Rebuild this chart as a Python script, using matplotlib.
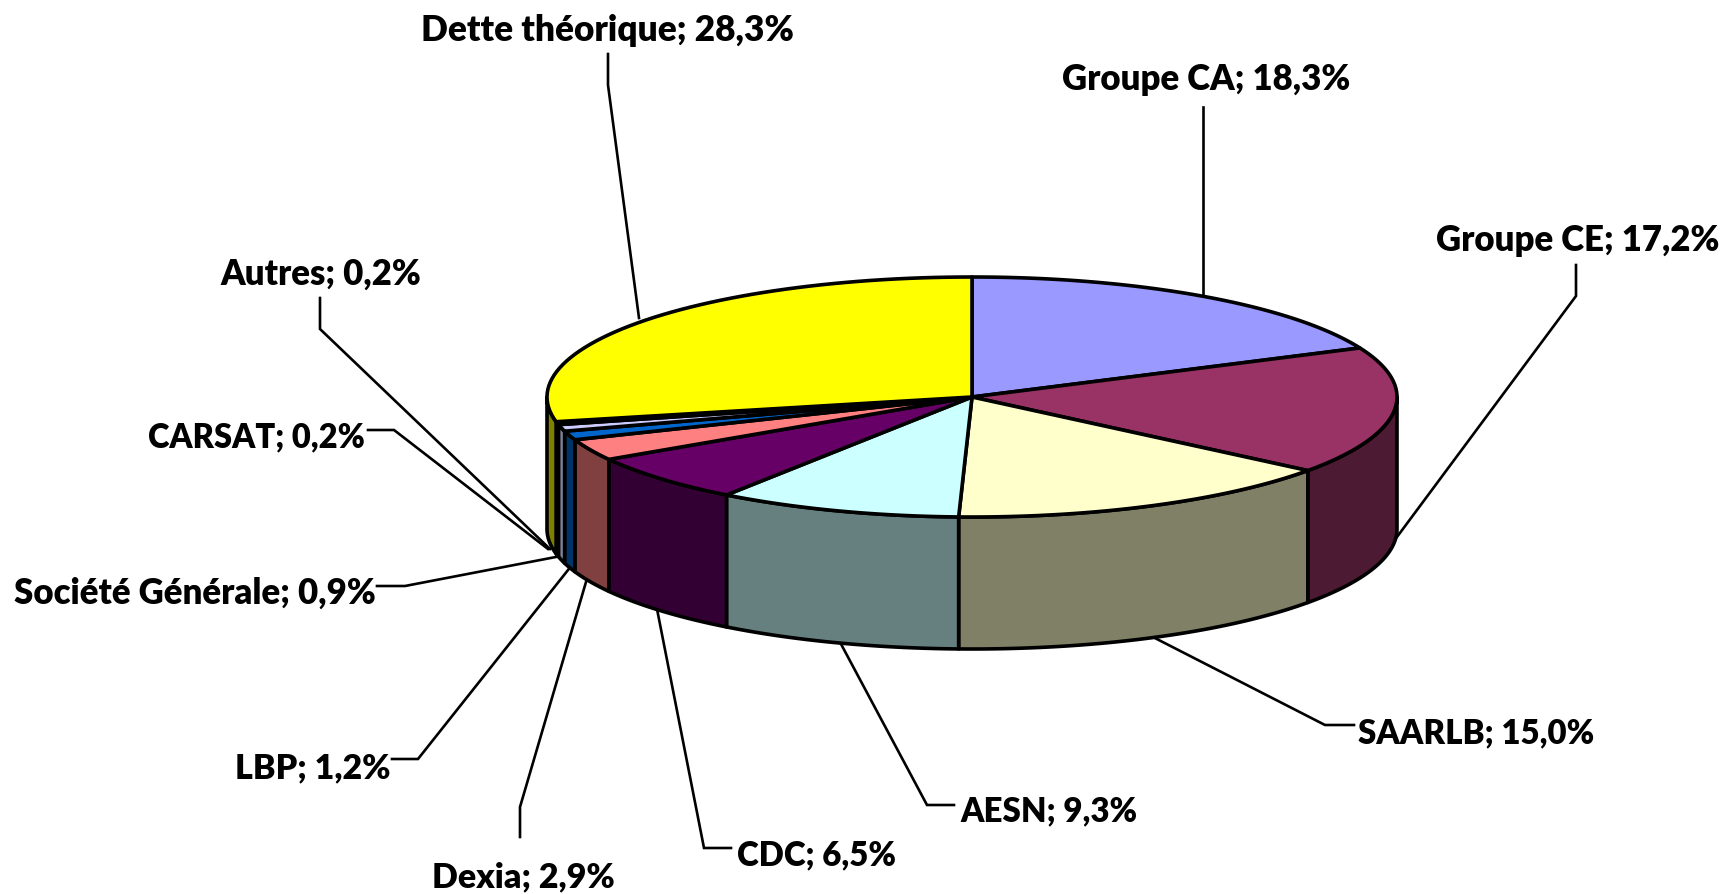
import matplotlib
matplotlib.use('Agg')
import matplotlib.pyplot as plt
import numpy as np

names = ['Groupe CA','Groupe CE','SAARLB','AESN','CDC','Dexia','LBP','Société Générale','CARSAT','Autres','Dette théorique']
shares = [18.3,17.2,15.0,9.3,6.5,2.9,1.2,0.9,0.2,0.2,28.3]
top_colors = ['#9999FF','#993366','#FFFFCC','#CCFFFF','#660066','#FF8080','#0066CC','#CCCCFF','#000080','#000000','#FFFF00']
side_colors = ['#4C4C80','#4D1A33','#808066','#668080','#330033','#804040','#003366','#808099','#000040','#000000','#808000']
share_text = ['18,3%','17,2%','15,0%','9,3%','6,5%','2,9%','1,2%','0,9%','0,2%','0,2%','28,3%']

# label anchor (x, y, ha) and leader line, in pixels of the 1724x895 picture
label_pos = [(1206,79,'center'),(1578,240,'center'),(1358,733,'left'),(960,811,'left'),(737,855,'left'),
             (523,877,'center'),(391,768,'right'),(376,593,'right'),(365,437,'right'),(321,274,'center'),(608,30,'center')]
label_size = [25,25,23.8,23.8,23.8,24.5,24.5,25,23.5,25,25.4]
leaders = [[(1203,108),(1203,295)],
           [(1576,266),(1576,297),(1391,546)],
           [(1354,726),(1325,726),(1149,636)],
           [(954,806),(927,806),(841,645)],
           [(731,849),(704,849),(657,610)],
           [(520,838),(520,808),(586,583)],
           [(392,760),(418,760),(572,566)],
           [(377,587),(405,587),(561,557)],
           [(368,431),(394,431),(548,550)],
           [(320,299),(320,330),(550,550)],
           [(608,55),(608,86),(639,319)]]

cx, cy = 972, 398
rx, ry = 425, 120
depth = 132
lw = 2.6

def rim(a, b, n=60):
    t = np.radians(np.linspace(a, b, n))
    return cx + rx*np.sin(t), cy - ry*np.cos(t)

fig = plt.figure(figsize=(17.24,8.95), dpi=100)
ax = fig.add_axes([0,0,1,1])
ax.set_xlim(0,1724)
ax.set_ylim(895,0)
ax.axis('off')

angles = np.concatenate([[0], np.cumsum(shares)])*360/sum(shares)

# walls first, only the front half of the pie shows them
for i in range(len(shares)):
    a = max(angles[i],90)
    b = min(angles[i+1],270)
    if a >= b:
        continue
    x, y = rim(a,b)
    ax.fill(np.r_[x,x[::-1]], np.r_[y,y[::-1]+depth], facecolor=side_colors[i], edgecolor='black', lw=lw, joinstyle='round', zorder=2)

for i in range(len(shares)):
    x, y = rim(angles[i],angles[i+1])
    ax.fill(np.r_[cx,x], np.r_[cy,y], facecolor=top_colors[i], edgecolor='black', lw=lw, joinstyle='round', zorder=3)

for i in range(len(names)):
    pts = leaders[i]
    ax.plot([p[0] for p in pts],[p[1] for p in pts],color='black',lw=1.9,zorder=1,solid_joinstyle='miter')
    lx, ly, ha = label_pos[i]
    ax.text(lx,ly,names[i]+'; '+share_text[i],ha=ha,va='center',family='Lato',fontweight='heavy',fontsize=label_size[i],color='black',zorder=5)

fig.savefig('out.png',dpi=100,facecolor='white')
